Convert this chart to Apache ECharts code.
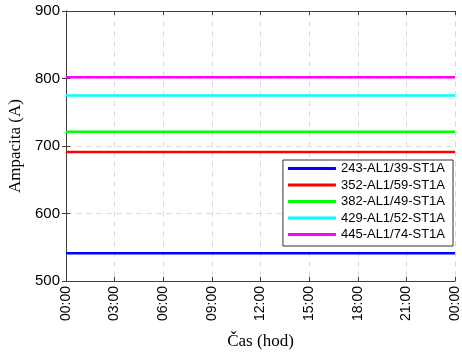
<!DOCTYPE html>
<html>
<head>
<meta charset="utf-8">
<script src="https://cdn.jsdelivr.net/npm/echarts@6/dist/echarts.min.js"></script>
<style>
  html, body { margin: 0; padding: 0; background: #fff; }
  #chart { width: 462px; height: 353px; }
</style>
</head>
<body>
<div id="chart"></div>
<script>
// hodiny 0..24
const hours = [0, 1, 2, 3, 4, 5, 6, 7, 8, 9, 10, 11, 12, 13, 14, 15, 16, 17, 18, 19, 20, 21, 22, 23, 24]
const seriesNames = ['243-AL1/39-ST1A', '352-AL1/59-ST1A', '382-AL1/49-ST1A', '429-AL1/52-ST1A', '445-AL1/74-ST1A']
const colors = ['#0000ff', '#ff0000', '#00ff00', '#00ffff', '#ff00ff']
const v243 = [541, 541, 541, 541, 541, 541, 541, 541, 541, 541, 541, 541, 541, 541, 541, 541, 541, 541, 541, 541, 541, 541, 541, 541, 541]
const v352 = [691, 691, 691, 691, 691, 691, 691, 691, 691, 691, 691, 691, 691, 691, 691, 691, 691, 691, 691, 691, 691, 691, 691, 691, 691]
const v382 = [721, 721, 721, 721, 721, 721, 721, 721, 721, 721, 721, 721, 721, 721, 721, 721, 721, 721, 721, 721, 721, 721, 721, 721, 721]
const v429 = [775, 775, 775, 775, 775, 775, 775, 775, 775, 775, 775, 775, 775, 775, 775, 775, 775, 775, 775, 775, 775, 775, 775, 775, 775]
const v445 = [802, 802, 802, 802, 802, 802, 802, 802, 802, 802, 802, 802, 802, 802, 802, 802, 802, 802, 802, 802, 802, 802, 802, 802, 802]
const values = [v243, v352, v382, v429, v445]

let myChart = echarts.init(document.getElementById('chart'))

const fmtHour = function(v) {
  let h = v % 24
  return (h < 10 ? '0' : '') + h + ':00'
}

const gridLine = { show: true, lineStyle: { color: '#dcdcdc', type: [6, 4], width: 1 } }
const boxLine = { show: true, lineStyle: { color: '#404040', width: 1 } }

myChart.setOption({
  animation: false,
  grid: { left: 66, right: 7, top: 11, bottom: 72, outerBoundsMode: 'none' },
  legend: {
    data: seriesNames,
    orient: 'vertical',
    right: 9,
    bottom: 107,
    icon: 'rect',
    itemWidth: 48,
    itemHeight: 3,
    itemGap: 3.5,
    padding: [2, 8, 5, 5],
    borderColor: '#333',
    borderWidth: 1,
    backgroundColor: '#fff',
    textStyle: { fontFamily: 'Liberation Sans', fontSize: 13, color: '#000', lineHeight: 13 }
  },
  xAxis: [
    {
      type: 'value',
      min: 0,
      max: 24,
      interval: 3,
      name: 'Čas (hod)',
      nameLocation: 'middle',
      nameGap: 52,
      nameTextStyle: { fontFamily: 'Liberation Serif', fontSize: 17, color: '#000' },
      axisLine: boxLine,
      axisTick: { inside: true, length: 4, lineStyle: { color: '#404040' } },
      axisLabel: { rotate: 90, formatter: fmtHour, fontFamily: 'Liberation Sans', fontSize: 14, color: '#000', margin: 5 },
      splitLine: gridLine
    },
    {
      type: 'value',
      position: 'top',
      min: 0,
      max: 24,
      interval: 3,
      axisLine: boxLine,
      axisTick: { inside: true, length: 4, lineStyle: { color: '#404040' } },
      axisLabel: { show: false },
      splitLine: { show: false }
    }
  ],
  yAxis: [
    {
      type: 'value',
      min: 500,
      max: 900,
      interval: 100,
      name: 'Ampacita (A)',
      nameLocation: 'middle',
      nameGap: 36,
      nameTextStyle: { fontFamily: 'Liberation Serif', fontSize: 17, color: '#000' },
      axisLine: boxLine,
      axisTick: { inside: true, length: 4, lineStyle: { color: '#404040' } },
      axisLabel: { fontFamily: 'Liberation Sans', fontSize: 15, color: '#000', margin: 6 },
      splitLine: gridLine
    },
    {
      type: 'value',
      position: 'right',
      min: 500,
      max: 900,
      interval: 100,
      axisLine: boxLine,
      axisTick: { inside: true, length: 4, lineStyle: { color: '#404040' } },
      axisLabel: { show: false },
      splitLine: { show: false }
    }
  ],
  series: seriesNames.map(function(name, i) {
    return {
      name: name,
      type: 'line',
      data: hours.map(function(h, j) { return [h, values[i][j]] }),
      showSymbol: false,
      lineStyle: { color: colors[i], width: 2.5 },
      itemStyle: { color: colors[i] }
    }
  })
})
</script>
</body>
</html>
